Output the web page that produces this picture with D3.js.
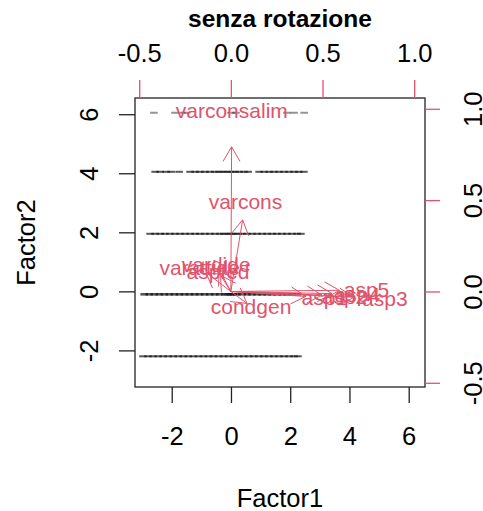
<!DOCTYPE html>
<html>
<head>
<meta charset="utf-8">
<script src="https://cdn.jsdelivr.net/npm/d3@7"></script>
<style>
  html, body { margin: 0; padding: 0; background: #fff; }
  svg text { font-family: "Liberation Sans", Arial, Helvetica, sans-serif; }
</style>
</head>
<body>
<svg id="chart" width="483" height="511"></svg>
<script>
// ---- data ----
const chartTitle = "senza rotazione";
const xLabel = "Factor1";
const yLabel = "Factor2";

// observation scores, grouped by the Factor2 level at which they lie
const rowLevels = [6.05, 4.05, 1.95, -0.1, -2.2];
const rowScores = [
  [-2.6, -1.89, -1.66, -1.5, 0.0, 0.17, 1.89, 2.13, 2.47],
  [-2.56, -2.39, -2.19, -2.02, -1.75, -1.38, -1.21, -1.05, -0.88, -0.71, -0.54, -0.40, -0.27, -0.13, 0.0, 0.14, 0.27, 0.44, 0.58, 0.95, 1.12, 1.29, 1.45, 1.62, 1.79, 1.96, 2.13, 2.29, 2.46],
  [-2.73, -2.56, -2.39, -2.23, -2.06, -1.89, -1.72, -1.55, -1.38, -1.21, -1.05, -0.88, -0.71, -0.54, -0.37, -0.24, -0.10, 0.0, 0.10, 0.24, 0.37, 0.54, 0.71, 0.88, 1.05, 1.22, 1.39, 1.55, 1.72, 1.89, 2.06, 2.23, 2.36],
  [-2.93, -2.76, -2.59, -2.42, -2.25, -2.08, -1.91, -1.74, -1.57, -1.40, -1.23, -1.06, -0.89, -0.72, -0.55, -0.38, -0.21, -0.10, 0.0, 0.08, 0.20, 0.37, 0.54, 0.71, 0.88, 1.05, 1.22, 1.39, 1.56, 1.73, 1.90, 2.07, 2.24],
  [-2.97, -2.80, -2.63, -2.46, -2.29, -2.12, -1.95, -1.78, -1.61, -1.44, -1.27, -1.10, -0.93, -0.76, -0.59, -0.42, -0.25, -0.08, 0.09, 0.26, 0.43, 0.60, 0.77, 0.94, 1.11, 1.28, 1.45, 1.62, 1.79, 1.96, 2.13, 2.26]
];

// variable loadings
const varNames = ["varconsalim", "varcons", "varattide", "vardide", "aspfed", "condgen", "asp1", "asp2", "asp4", "asp5", "asp3"];
const load1 = [0.005, 0.08, -0.17, -0.08, -0.07, 0.11, 0.51, 0.62, 0.69, 0.74, 0.84];
const load2 = [0.99, 0.49, 0.13, 0.15, 0.11, -0.082, -0.034, -0.025, -0.015, 0.008, -0.04];

const scoreTicks = [-2, 0, 2, 4, 6];
const loadTicks = [-0.5, 0.0, 0.5, 1.0];
const scoreDomain = [-3.24, 6.55];
const loadDomain = [-0.523, 1.059];

// ---- layout ----
const red = "#DF536B";
const L = 135, R = 425, T = 98, B = 387;
const svg = d3.select("#chart");

const x = d3.scaleLinear().domain(scoreDomain).range([L, R]);
const y = d3.scaleLinear().domain(scoreDomain).range([B, T]);
const lx = d3.scaleLinear().domain(loadDomain).range([L, R]);
const ly = d3.scaleLinear().domain(loadDomain).range([B, T]);

const fmtInt = d => d3.format("d")(d).replace("\u2212", "-");
const fmtDec = d => d3.format(".1f")(d).replace("\u2212", "-");

// observations
const obs = [];
rowLevels.forEach((lev, i) => rowScores[i].forEach(s => obs.push({ s, lev, i })));
svg.append("g").selectAll("line").data(obs).join("line")
  .attr("x1", d => x(d.s) - 3.8).attr("x2", d => x(d.s) + 3.8)
  .attr("y1", d => y(d.lev)).attr("y2", d => y(d.lev))
  .attr("stroke", "#111")
  .attr("stroke-width", d => d.i === 3 ? 2.6 : 2)
  .attr("stroke-opacity", d => d.i === 0 ? 0.45 : 0.7);

// arrows
const vars = varNames.map((n, i) => ({ n, a: load1[i], b: load2[i] }));
const ag = svg.append("g").attr("stroke", red).attr("stroke-width", 1).attr("fill", "none");
vars.forEach(v => {
  const x0 = lx(0), y0 = ly(0), x1 = lx(v.a * 0.8), y1 = ly(v.b * 0.8);
  ag.append("line").attr("x1", x0).attr("y1", y0).attr("x2", x1).attr("y2", y1);
  const ang = Math.atan2(y1 - y0, x1 - x0);
  const len = 17;
  [Math.PI / 6, -Math.PI / 6].forEach(da => {
    ag.append("line").attr("x1", x1).attr("y1", y1)
      .attr("x2", x1 - len * Math.cos(ang + da))
      .attr("y2", y1 - len * Math.sin(ang + da));
  });
});
svg.append("g").selectAll("text").data(vars).join("text")
  .attr("x", d => lx(d.a)).attr("y", d => ly(d.b))
  .attr("text-anchor", "middle").attr("dominant-baseline", "central")
  .attr("font-size", 21).attr("fill", red).text(d => d.n);

// box
svg.append("rect").attr("x", L).attr("y", T).attr("width", R - L).attr("height", B - T)
  .attr("fill", "none").attr("stroke", "#333").attr("stroke-width", 1.4);

const FS = 25.5;
function styleAxis(g, col) {
  g.select(".domain").remove();
  g.selectAll("line").attr("stroke", col).attr("stroke-width", 1.3);
  g.selectAll("text").attr("font-size", FS).attr("fill", "#000")
    .style("font-family", '"Liberation Sans", Arial, sans-serif');
}

// bottom axis
svg.append("g").attr("transform", `translate(0,${B})`)
  .call(d3.axisBottom(x).tickValues(scoreTicks).tickSize(16).tickFormat(fmtInt))
  .call(g => styleAxis(g, "#222"))
  .call(g => g.selectAll("text").attr("y", 58).attr("dy", null));

// left axis
svg.append("g").attr("transform", `translate(${L},0)`)
  .call(d3.axisLeft(y).tickValues(scoreTicks).tickSize(16).tickFormat(fmtInt))
  .call(g => styleAxis(g, "#222"))
  .call(g => g.selectAll("text").attr("x", 0).attr("y", -37).attr("dy", null)
    .attr("text-anchor", "middle").attr("transform", "rotate(-90)"));

// top axis (loadings)
svg.append("g").attr("transform", `translate(0,${T})`)
  .call(d3.axisTop(lx).tickValues(loadTicks).tickSize(18).tickFormat(fmtDec))
  .call(g => styleAxis(g, red))
  .call(g => g.selectAll("text").attr("y", -36).attr("dy", null));

// right axis (loadings)
svg.append("g").attr("transform", `translate(${R},0)`)
  .call(d3.axisRight(ly).tickValues(loadTicks).tickSize(15).tickFormat(fmtDec))
  .call(g => styleAxis(g, red))
  .call(g => g.selectAll("text").attr("x", 0).attr("y", 57).attr("dy", null)
    .attr("text-anchor", "middle").attr("transform", "rotate(-90)"));

// titles
svg.append("text").attr("x", (L + R) / 2).attr("y", 27).attr("text-anchor", "middle")
  .attr("font-size", 24.5).attr("font-weight", "bold").text(chartTitle);
svg.append("text").attr("x", (L + R) / 2).attr("y", 507).attr("text-anchor", "middle")
  .attr("font-size", FS).text(xLabel);
svg.append("text").attr("transform", `translate(35,${(T + B) / 2}) rotate(-90)`)
  .attr("text-anchor", "middle").attr("font-size", FS).text(yLabel);
</script>
</body>
</html>
